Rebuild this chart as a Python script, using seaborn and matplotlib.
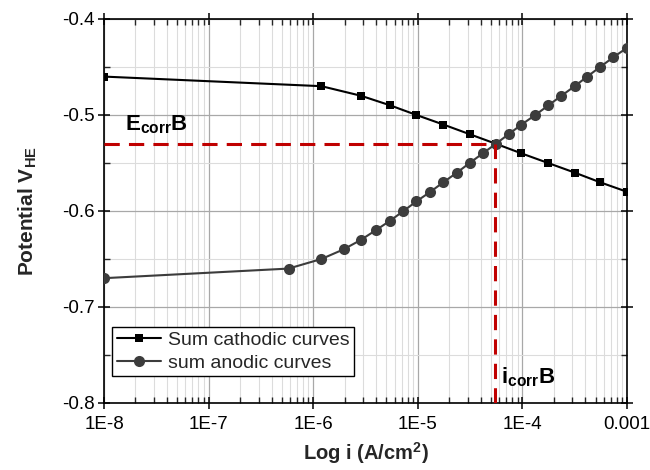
import numpy as np
import pandas as pd
import matplotlib
matplotlib.use("Agg")
import matplotlib.pyplot as plt
import matplotlib.ticker as mticker
import seaborn as sns

# ---- data ----
cath_i = [1e-8, 1.2e-6, 2.87e-6, 5.46e-6, 9.7e-6, 1.76e-5, 3.13e-5, 5.58e-5,
          9.8e-5, 1.76e-4, 3.16e-4, 5.5e-4, 1e-3]
cath_E = [-0.46, -0.47, -0.48, -0.49, -0.50, -0.51, -0.52, -0.53,
          -0.54, -0.55, -0.56, -0.57, -0.58]
anod_i = [1e-8, 5.81e-7, 1.2e-6, 1.95e-6, 2.87e-6, 3.97e-6, 5.46e-6, 7.3e-6,
          9.7e-6, 1.32e-5, 1.76e-5, 2.37e-5, 3.13e-5, 4.18e-5, 5.58e-5,
          7.39e-5, 9.8e-5, 1.33e-4, 1.77e-4, 2.36e-4, 3.16e-4, 4.17e-4,
          5.53e-4, 7.38e-4, 1e-3]
anod_E = [-0.67, -0.66, -0.65, -0.64, -0.63, -0.62, -0.61, -0.60,
          -0.59, -0.58, -0.57, -0.56, -0.55, -0.54, -0.53,
          -0.52, -0.51, -0.50, -0.49, -0.48, -0.47, -0.46,
          -0.45, -0.44, -0.43]
E_corr = -0.53
i_corr = 5.5e-5
x_ticks = [1e-8, 1e-7, 1e-6, 1e-5, 1e-4, 1e-3]
x_tick_labels = ["1E-8", "1E-7", "1E-6", "1E-5", "1E-4", "0.001"]
y_ticks = [-0.8, -0.7, -0.6, -0.5, -0.4]
y_tick_labels = ["-0.8", "-0.7", "-0.6", "-0.5", "-0.4"]

sns.set_style("ticks")
plt.rcParams["font.family"] = ["Liberation Sans", "DejaVu Sans"]
plt.rcParams["mathtext.fontset"] = "custom"
plt.rcParams["mathtext.rm"] = "Liberation Sans"
plt.rcParams["mathtext.bf"] = "Liberation Sans:bold"
plt.rcParams["mathtext.it"] = "Liberation Sans:italic"

fig = plt.figure(figsize=(6.5, 4.7), dpi=100)
ax = fig.add_axes([0.16, 0.1426, 0.8046, 0.817])

df_c = pd.DataFrame({"i": cath_i, "E": cath_E})
df_a = pd.DataFrame({"i": anod_i, "E": anod_E})

sns.lineplot(data=df_c, x="i", y="E", ax=ax, color="black", lw=1.5,
             marker="s", markersize=6, markeredgewidth=0, sort=False,
             estimator=None, label="Sum cathodic curves", zorder=4)
sns.lineplot(data=df_a, x="i", y="E", ax=ax, color="#3c3c3c", lw=1.5,
             marker="o", markersize=8, markeredgewidth=0, sort=False,
             estimator=None, label="sum anodic curves", zorder=5)

ax.set_xscale("log")
ax.set_xlim(x_ticks[0], x_ticks[-1])
ax.set_ylim(y_ticks[0], y_ticks[-1])

red = "#c00000"
ax.plot([x_ticks[0], i_corr], [E_corr, E_corr], color=red, lw=2.2,
        dashes=(5, 3), zorder=6)
ax.plot([i_corr, i_corr], [y_ticks[0], E_corr], color=red, lw=2.2,
        dashes=(5, 3), zorder=6)

ax.xaxis.set_major_locator(mticker.FixedLocator(x_ticks))
ax.xaxis.set_major_formatter(mticker.FixedFormatter(x_tick_labels))
ax.xaxis.set_minor_locator(mticker.LogLocator(base=10, subs=np.arange(2, 10), numticks=20))
ax.xaxis.set_minor_formatter(mticker.NullFormatter())
ax.yaxis.set_major_locator(mticker.FixedLocator(y_ticks))
ax.yaxis.set_major_formatter(mticker.FixedFormatter(y_tick_labels))
ax.yaxis.set_minor_locator(mticker.MultipleLocator(0.05))

ax.grid(which="major", color="#a8a8a8", lw=0.9)
ax.grid(which="minor", color="#dcdcdc", lw=0.8)
ax.set_axisbelow(True)

for s in ax.spines.values():
    s.set_color("black")
    s.set_linewidth(1.2)

ax.tick_params(which="major", direction="inout", length=9, width=1.1,
               labelsize=13.5, colors="black", pad=2, top=True, right=True)
ax.tick_params(which="minor", direction="in", length=4, width=1.0,
               top=True, right=True)
ax.tick_params(axis="x", which="major", pad=5)

ax.set_xlabel(r"Log i (A/cm$^{\mathbf{2}}$)", fontsize=14.5, fontweight="bold", labelpad=5)
ax.set_ylabel(r"Potential V$_{\mathbf{HE}}$", fontsize=15, fontweight="bold", labelpad=17)

ax.text(1.6e-8, -0.522, r"$\mathbf{E_{corr}B}$", fontsize=16, color="black",
        ha="left", va="bottom")
ax.text(6.2e-5, -0.785, r"$\mathbf{i_{corr}B}$", fontsize=16, color="black",
        ha="left", va="bottom")

leg = ax.legend(loc="lower left", bbox_to_anchor=(0.005, 0.055), fontsize=14,
                frameon=True, fancybox=False, framealpha=1, edgecolor="black",
                borderpad=0.22, labelspacing=0.25, handlelength=2.3,
                handletextpad=0.35, borderaxespad=0.3)
leg.get_frame().set_linewidth(1.0)

fig.savefig("out.png", dpi=100)
